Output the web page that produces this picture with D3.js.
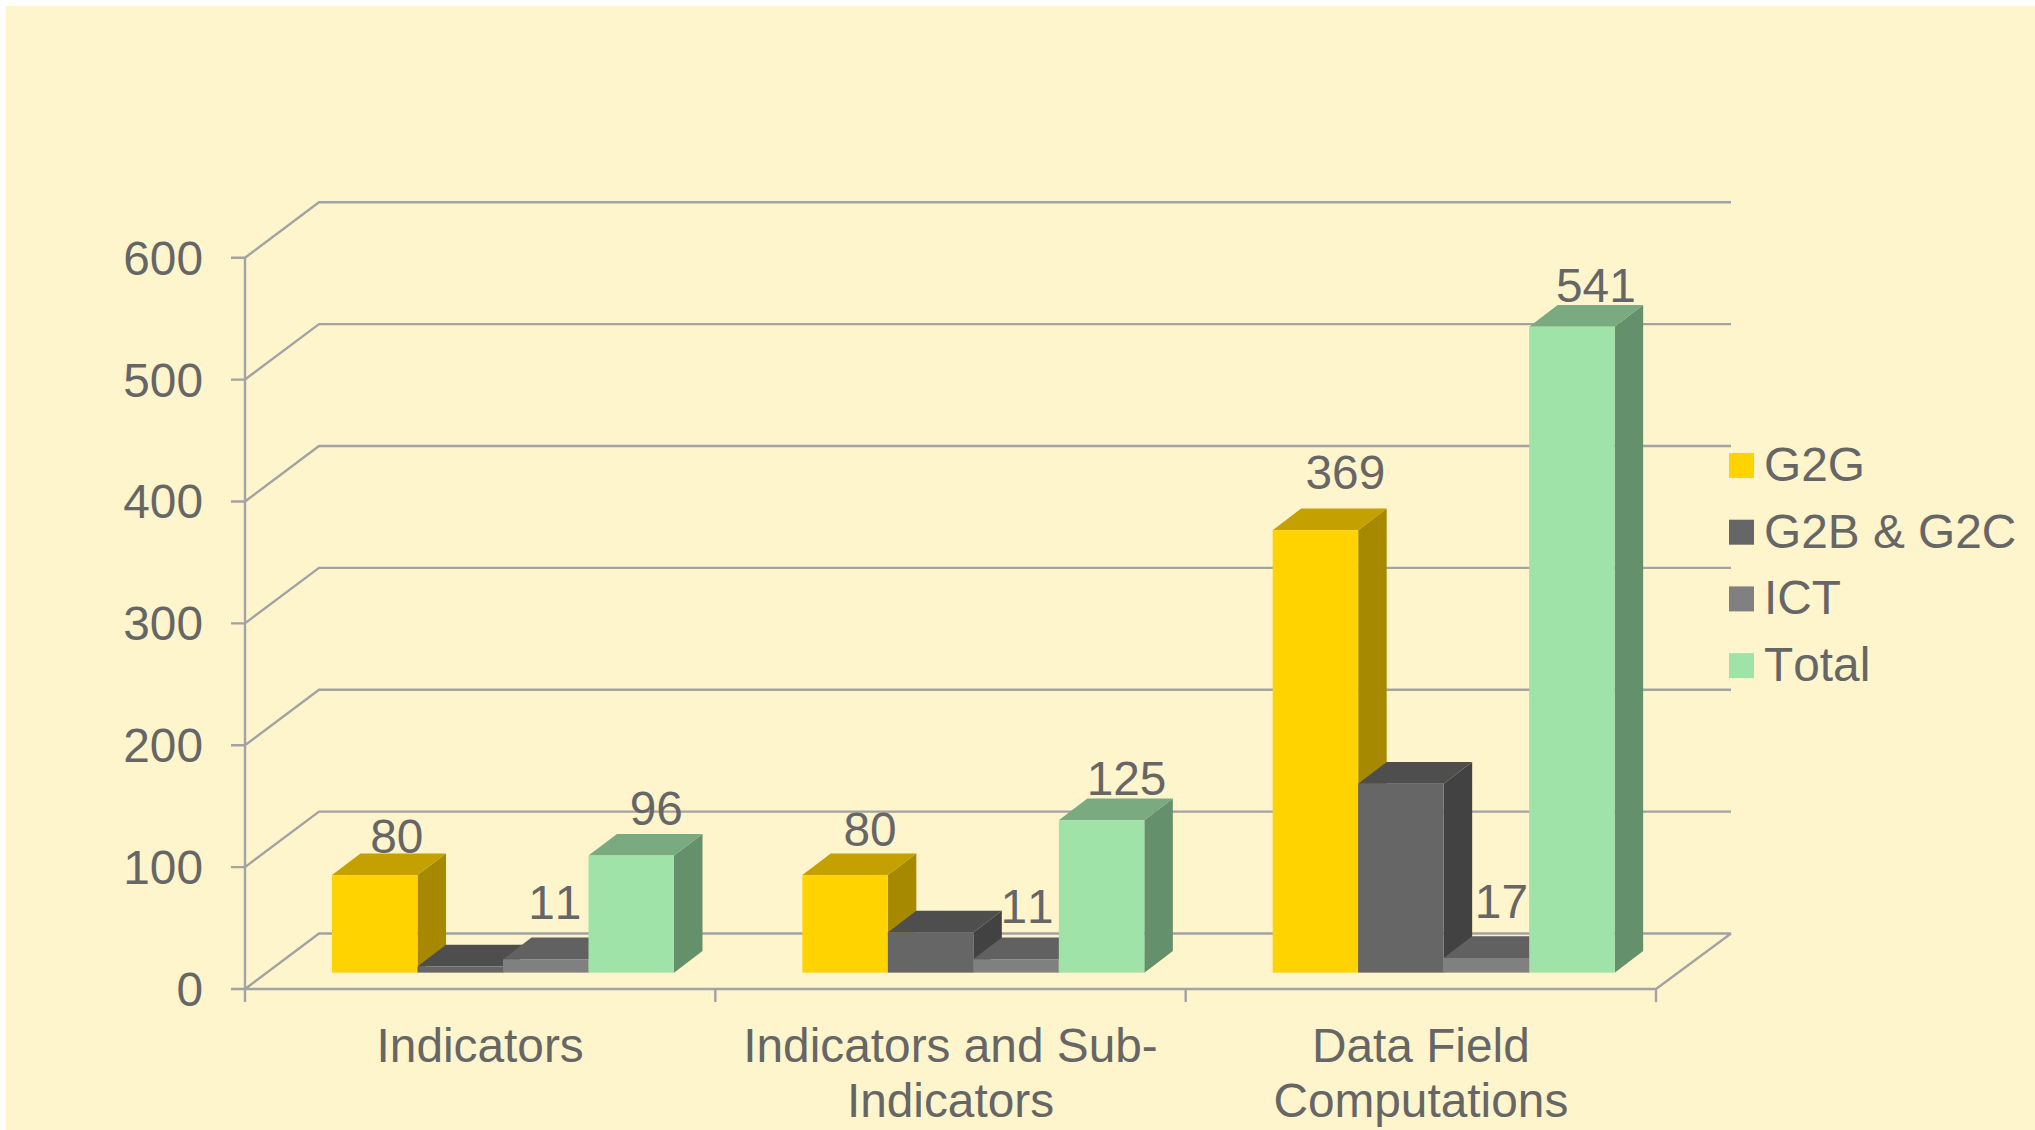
<!DOCTYPE html>
<html><head><meta charset="utf-8"><script src="https://cdn.jsdelivr.net/npm/d3@7"></script>
<style>html,body{margin:0;background:#fff}svg{display:block}text{font-family:"Liberation Sans",Arial,sans-serif;fill:#666;font-kerning:none}</style></head>
<body><div id="c"></div><script>
const categories=["Indicators","Indicators and Sub-|Indicators","Data Field|Computations"];
const seriesNames=["G2G","G2B & G2C","ICT","Total"];
const plotted=[[80,80,363],[5,33,155],[11,11,12],[96,125,530]];
const labels=[["80","80","369"],["","",""],["11","11","17"],["96","125","541"]];
const ticks=[0,100,200,300,400,500,600];
const labelShiftX=[[22,25,30],[0,0,0],[9,11,15],[25,25,24]];
const labelGapY=[[0,7,19],[0,0,0],[19,15,18],[9,4,3]];
const front=["#ffd300","#666666","#808080","#9fe3a8"],top_=["#c4a000","#4e4e4e","#616161","#7aaa80"],side=["#a68900","#424242","#4e4e4e","#64906b"];
const W=2035,H=1130,dx=74,dy=55.5,fs=47.8;
const svg=d3.select("#c").append("svg").attr("width",W).attr("height",H);
svg.append("rect").attr("x",6).attr("y",6).attr("width",W-6).attr("height",H-6).attr("fill","#fff5cc");
const y=d3.scaleLinear().domain([0,600]).range([989,257.7]);
const x0=d3.scaleBand().domain(categories).range([245,1656]);
const x1=d3.scaleBand().domain(d3.range(4)).range([87,87+342]);
const bd=.295,bdy=dy*bd,wd=28.5,hd=21.7;
const lp=d3.path();
ticks.forEach(t=>{lp.moveTo(231,y(t));lp.lineTo(245,y(t));lp.lineTo(245+dx,y(t)-dy);lp.lineTo(1731,y(t)-dy);});
lp.moveTo(245,y(600));lp.lineTo(245,y(0)+13);
lp.moveTo(245,y(0));lp.lineTo(1656,y(0));lp.lineTo(1731,y(0)-dy);
[1,2,3].forEach(i=>{const X=245+i*x0.step();lp.moveTo(X,y(0));lp.lineTo(X,y(0)+13);});
svg.append("path").attr("d",lp.toString()).attr("fill","none").attr("stroke","#a3a3a3").attr("stroke-width",2.4);
const Y0=y(0)-bdy;
categories.forEach((c,ci)=>{
  const g=svg.append("g");
  seriesNames.forEach((s,si)=>{
    const xa=x0(c)+x1(si),w=x1.bandwidth(),yt=y(plotted[si][ci])-bdy;
    g.append("path").attr("fill",side[si]).attr("d",`M${xa+w},${Y0}L${xa+w+wd},${Y0-hd}L${xa+w+wd},${yt-hd}L${xa+w},${yt}Z`);
    g.append("path").attr("fill",top_[si]).attr("d",`M${xa},${yt}L${xa+wd},${yt-hd}L${xa+w+wd},${yt-hd}L${xa+w},${yt}Z`);
    g.append("rect").attr("fill",front[si]).attr("x",xa).attr("y",yt).attr("width",w).attr("height",Y0-yt);
  });
  seriesNames.forEach((s,si)=>{
    if(!labels[si][ci])return;
    const xa=x0(c)+x1(si),w=x1.bandwidth(),yt=y(plotted[si][ci])-bdy;
    g.append("text").attr("x",xa+w/2+labelShiftX[si][ci]).attr("y",yt-hd-labelGapY[si][ci]).attr("text-anchor","middle").attr("font-size",fs).text(labels[si][ci]);
  });
  const tx=x0(c)+x0.bandwidth()/2;
  c.split("|").forEach((l,i)=>svg.append("text").attr("x",tx).attr("y",1062+i*55).attr("text-anchor","middle").attr("font-size",fs).text(l));
});
ticks.forEach(t=>svg.append("text").attr("x",203).attr("y",y(t)+17).attr("text-anchor","end").attr("font-size",fs).text(t));
seriesNames.forEach((s,i)=>{
  const ly=453+i*66.7;
  svg.append("rect").attr("x",1729).attr("y",ly).attr("width",25).attr("height",25).attr("fill",front[i]);
  svg.append("text").attr("x",1764).attr("y",ly+28).attr("font-size",fs).text(s);
});
</script></body></html>
